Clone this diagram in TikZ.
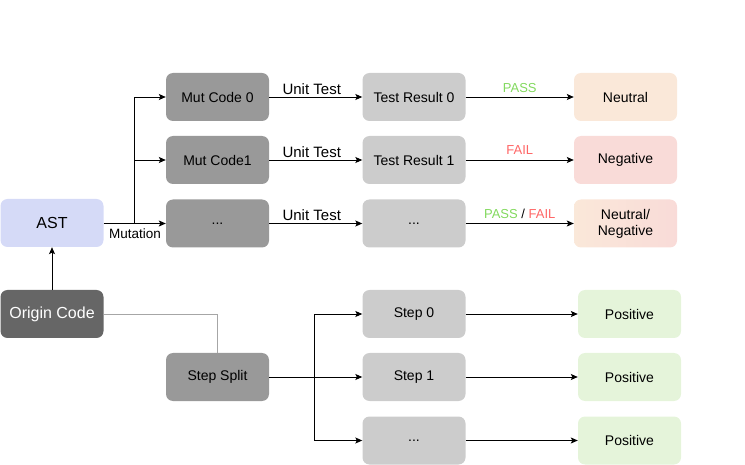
\documentclass[tikz,border=0pt]{standalone}
\usepackage{fontspec}
\setmainfont{Liberation Sans}
\usetikzlibrary{arrows.meta}
\definecolor{astc}{HTML}{D5DAF7}
\definecolor{mutc}{HTML}{999999}
\definecolor{resc}{HTML}{CCCCCC}
\definecolor{origc}{HTML}{666666}
\definecolor{neuc}{HTML}{FAE8D9}
\definecolor{negc}{HTML}{F9DBD8}
\definecolor{posc}{HTML}{E5F4DA}
\definecolor{passc}{HTML}{82D95E}
\definecolor{failc}{HTML}{FF6666}
\tikzset{
  box/.style={rounded corners=7pt, minimum width=103pt, minimum height=48pt, inner sep=0pt, align=center, font=\fontsize{14}{16}\selectfont},
  astbox/.style={box, fill=astc, font=\fontsize{16}{18}\selectfont},
  origbox/.style={box, fill=origc, text=white, font=\fontsize{16}{18}\selectfont},
  mutbox/.style={box, fill=mutc},
  resbox/.style={box, fill=resc},
  neubox/.style={box, fill=neuc},
  negbox/.style={box, fill=negc},
  posbox/.style={box, fill=posc},
  arr/.style={draw=black, line width=0.9pt, -{Stealth[length=7pt,width=6pt,inset=1.5pt]}},
  lbl/.style={font=\fontsize{15}{17}\selectfont, inner sep=1pt},
  slbl/.style={font=\fontsize{13}{15}\selectfont, inner sep=1pt},
}
\begin{document}
\begin{tikzpicture}[x=1pt,y=-1pt]
\useasboundingbox (0,0) rectangle (745,465);
% nodes
\node[astbox] (ast) at (52,223) {AST};
\node[origbox] (orig) at (52,314) {Origin Code};
\node[mutbox] (m0) at (217.5,97) {Mut Code 0};
\node[mutbox] (m1) at (217.5,160) {Mut Code1};
\node[mutbox] (m2) at (217.5,223.5) {...};
\node[resbox] (r0) at (414,97) {Test Result 0};
\node[resbox] (r1) at (414,160) {Test Result 1};
\node[resbox] (r2) at (414,223.5) {...};
\node[neubox] (o0) at (625.5,97) {Neutral};
\node[negbox] (o1) at (625.5,160) {Negative};
\node[box, left color=neuc, right color=negc] (o2) at (625.5,223.5) {Neutral/\\Negative};
\node[mutbox] (ss) at (217.5,377) {Step Split};
\node[resbox] (s0) at (414,314) {Step 0};
\node[resbox] (s1) at (414,377) {Step 1};
\node[resbox] (s2) at (414,440.5) {...};
\node[posbox] (p0) at (629.5,314) {Positive};
\node[posbox] (p1) at (629.5,377) {Positive};
\node[posbox] (p2) at (629.5,440.5) {Positive};
% mutation branch
\coordinate (br1) at (134,223.5);
\draw[arr] (ast.east |- m2.west) -- (m2.west);
\node[slbl, font=\fontsize{13.5}{15}\selectfont] at (135,234) {Mutation};
\draw[arr] (br1) |- (m1.west);
\draw[arr] (br1) |- (m0.west);
% unit tests
\draw[arr] (m0) -- node[lbl, above, xshift=-4pt, yshift=1pt] {Unit Test} (r0);
\draw[arr] (m1) -- node[lbl, above, xshift=-4pt, yshift=1pt] {Unit Test} (r1);
\draw[arr] (m2) -- node[lbl, above, xshift=-4pt, yshift=1pt] {Unit Test} (r2);
% outcomes
\draw[arr] (r0) -- node[slbl, above, yshift=3pt, text=passc] {PASS} (o0);
\draw[arr] (r1) -- node[slbl, above, yshift=4pt, text=failc] {FAIL} (o1);
\draw[arr] (r2) -- node[slbl, above, yshift=3pt] {\textcolor{passc}{PASS} / \textcolor{failc}{FAIL}} (o2);
% origin
\draw[arr] (orig) -- (ast);
\draw[draw=black!35, line width=0.9pt] (orig.east) -| (ss.north);
% step split
\coordinate (br2) at (314,377);
\draw[arr] (ss.east) -- (s1.west);
\draw[arr] (br2) |- (s0.west);
\draw[arr] (br2) |- (s2.west);
\draw[arr] (s0) -- (p0);
\draw[arr] (s1) -- (p1);
\draw[arr] (s2) -- (p2);
\end{tikzpicture}
\end{document}
